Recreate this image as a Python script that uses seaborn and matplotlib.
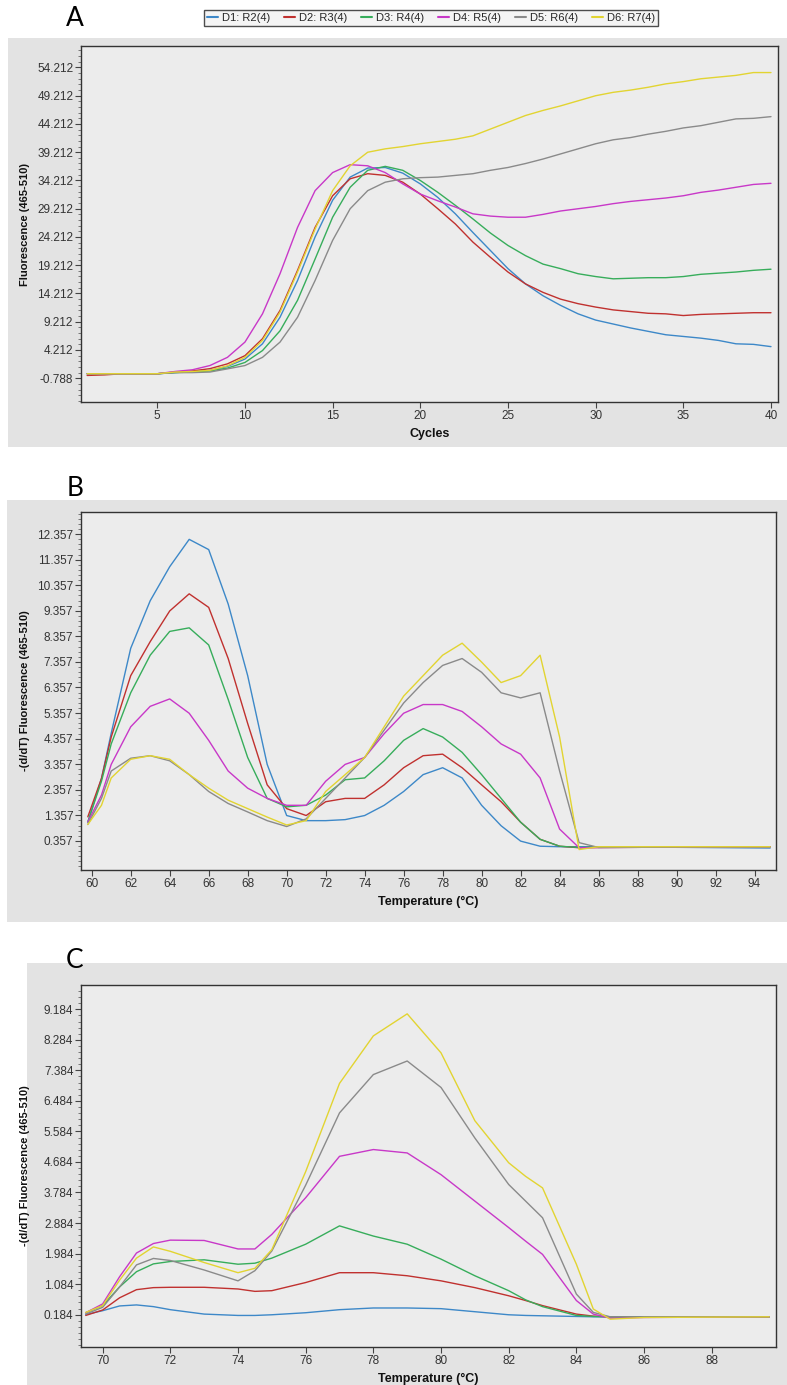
import pandas as pd
import seaborn as sns
import matplotlib.pyplot as plt
from matplotlib.patches import Rectangle
from matplotlib.lines import Line2D
from matplotlib.ticker import FixedLocator, AutoMinorLocator

sns.set_theme(style='ticks')
plt.rcParams['font.family'] = ['Liberation Sans Narrow', 'Liberation Sans', 'DejaVu Sans']

series = ['D1: R2(4)', 'D2: R3(4)', 'D3: R4(4)', 'D4: R5(4)', 'D5: R6(4)', 'D6: R7(4)']
colors = ['#3d88c8', '#c0312f', '#37ad5b', '#c838c8', '#8a8a8a', '#e2d431']

# A: amplification curves, one value per cycle
cycles = list(range(1, 41))
amp_d1 = [0.0, 0.0, 0.0, 0.0, 0.0, 0.2, 0.4, 0.6, 1.3, 2.6, 5.3, 10.0, 16.5, 24.2, 30.7, 34.8, 36.4, 36.5, 35.5, 33.6,
          31.2, 28.3, 25.0, 21.8, 18.6, 15.9, 13.8, 12.1, 10.6, 9.5, 8.8, 8.1, 7.5, 6.9, 6.6, 6.3, 5.9, 5.3, 5.2, 4.8]
amp_d2 = [-0.3, -0.2, 0.0, 0.0, 0.0, 0.3, 0.5, 0.9, 1.75, 3.2, 6.2, 11.2, 18.3, 25.9, 31.5, 34.5, 35.4, 35.1, 33.9, 31.8,
          29.2, 26.5, 23.3, 20.6, 18.0, 15.9, 14.4, 13.2, 12.4, 11.8, 11.3, 11.0, 10.7, 10.6, 10.3, 10.5, 10.6, 10.7, 10.8, 10.8]
amp_d3 = [0.0, 0.0, 0.0, 0.0, 0.0, 0.2, 0.3, 0.5, 1.0, 2.0, 4.1, 7.6, 13.0, 20.3, 27.7, 33.0, 36.0, 36.7, 36.0, 34.2,
          32.1, 29.8, 27.4, 24.9, 22.7, 20.9, 19.4, 18.6, 17.7, 17.2, 16.8, 16.9, 17.0, 17.0, 17.2, 17.6, 17.8, 18.0, 18.3, 18.5]
amp_d4 = [0.0, 0.0, 0.0, 0.0, 0.0, 0.4, 0.7, 1.45, 2.9, 5.6, 10.6, 17.7, 25.9, 32.4, 35.6, 37.0, 36.8, 35.6, 33.6, 31.8,
          30.6, 29.5, 28.3, 27.9, 27.7, 27.7, 28.2, 28.8, 29.2, 29.6, 30.1, 30.5, 30.8, 31.1, 31.5, 32.1, 32.5, 33.0, 33.5, 33.7]
amp_d5 = [0.0, 0.0, 0.0, 0.0, 0.0, 0.2, 0.2, 0.3, 0.86, 1.45, 2.9, 5.6, 10.0, 16.5, 23.6, 29.2, 32.4, 33.9, 34.5, 34.7,
          34.8, 35.1, 35.4, 36.0, 36.5, 37.2, 38.0, 38.9, 39.8, 40.7, 41.4, 41.8, 42.4, 42.9, 43.5, 43.9, 44.5, 45.1, 45.2, 45.5]
amp_d6 = [0.0, 0.0, 0.0, 0.0, 0.0, 0.3, 0.4, 0.6, 1.4, 2.9, 5.9, 10.9, 18.0, 25.6, 32.4, 36.8, 39.2, 39.8, 40.2, 40.7,
          41.1, 41.5, 42.1, 43.3, 44.5, 45.7, 46.6, 47.4, 48.3, 49.2, 49.8, 50.2, 50.7, 51.3, 51.7, 52.2, 52.5, 52.8, 53.3, 53.3]

# B: melt peaks, full range
temp_b = [59.8, 60.5, 61, 62, 63, 64, 65, 66, 67, 68, 69, 70, 71, 72, 73, 74, 75, 76, 77, 78, 79, 80, 81, 82, 83, 84,
          85, 86, 94.8]
melt_b_d1 = [1.09, 2.8, 4.57, 7.89, 9.75, 11.08, 12.15, 11.75, 9.62, 6.82, 3.35, 1.35, 1.15, 1.15, 1.19, 1.35, 1.75,
             2.29, 2.95, 3.22, 2.82, 1.75, 0.95, 0.35, 0.15, 0.13, 0.13, 0.13, 0.08]
melt_b_d2 = [1.3, 2.8, 4.42, 6.82, 8.15, 9.35, 10.02, 9.49, 7.49, 4.95, 2.55, 1.62, 1.35, 1.89, 2.02, 2.02, 2.55, 3.22,
             3.69, 3.75, 3.22, 2.55, 1.89, 1.09, 0.42, 0.15, 0.09, 0.1, 0.13]
melt_b_d3 = [1.1, 2.69, 4.15, 6.15, 7.62, 8.55, 8.69, 8.02, 5.89, 3.62, 2.02, 1.69, 1.75, 2.15, 2.75, 2.82, 3.49, 4.29,
             4.75, 4.42, 3.82, 2.95, 2.02, 1.09, 0.42, 0.15, 0.1, 0.12, 0.13]
melt_b_d4 = [1.1, 2.15, 3.35, 4.82, 5.62, 5.91, 5.35, 4.29, 3.09, 2.42, 2.02, 1.75, 1.75, 2.69, 3.35, 3.62, 4.55, 5.35,
             5.69, 5.69, 5.42, 4.82, 4.15, 3.75, 2.82, 0.82, 0.09, 0.1, 0.13]
melt_b_d5 = [1.0, 2.02, 3.09, 3.59, 3.69, 3.49, 2.95, 2.29, 1.82, 1.49, 1.15, 0.92, 1.22, 2.02, 2.82, 3.62, 4.69, 5.75,
             6.55, 7.22, 7.49, 6.95, 6.15, 5.95, 6.15, 3.09, 0.29, 0.1, 0.13]
melt_b_d6 = [1.0, 1.75, 2.82, 3.55, 3.69, 3.55, 2.95, 2.42, 1.95, 1.62, 1.29, 0.98, 1.15, 2.29, 2.95, 3.62, 4.82, 6.02,
             6.82, 7.62, 8.09, 7.35, 6.55, 6.82, 7.62, 4.42, 0.02, 0.13, 0.13]

# C: melt peaks, zoomed range
temp_c = [69.5, 70, 70.5, 71, 71.5, 72, 73, 74, 74.5, 75, 76, 77, 78, 79, 80, 81, 82, 82.5, 83, 84, 84.5, 85, 86, 89.7]
melt_c_d1 = [0.19, 0.3, 0.44, 0.47, 0.42, 0.33, 0.2, 0.16, 0.16, 0.18, 0.24, 0.33, 0.38, 0.38, 0.36, 0.27, 0.18, 0.16,
             0.15, 0.13, 0.12, 0.12, 0.12, 0.12]
melt_c_d2 = [0.16, 0.32, 0.68, 0.92, 0.98, 0.99, 0.99, 0.94, 0.87, 0.89, 1.13, 1.42, 1.42, 1.33, 1.18, 0.98, 0.74, 0.6,
             0.45, 0.2, 0.14, 0.12, 0.12, 0.12]
melt_c_d3 = [0.24, 0.45, 1.0, 1.45, 1.68, 1.75, 1.8, 1.67, 1.7, 1.85, 2.26, 2.8, 2.5, 2.26, 1.82, 1.33, 0.89, 0.62,
             0.42, 0.16, 0.13, 0.12, 0.12, 0.12]
melt_c_d4 = [0.24, 0.5, 1.3, 2.0, 2.28, 2.38, 2.37, 2.12, 2.12, 2.55, 3.63, 4.85, 5.05, 4.95, 4.31, 3.53, 2.75, 2.35,
             1.96, 0.6, 0.2, 0.08, 0.1, 0.12]
melt_c_d5 = [0.2, 0.4, 1.0, 1.65, 1.84, 1.78, 1.5, 1.18, 1.48, 2.06, 4.0, 6.13, 7.26, 7.66, 6.88, 5.39, 4.02, 3.53,
             3.04, 0.79, 0.25, 0.12, 0.12, 0.12]
melt_c_d6 = [0.25, 0.45, 1.2, 1.85, 2.18, 2.05, 1.72, 1.42, 1.55, 2.1, 4.4, 7.0, 8.4, 9.05, 7.9, 5.9, 4.66, 4.26,
             3.92, 1.67, 0.35, 0.05, 0.1, 0.12]


def long_form(x, ys):
    frames = [pd.DataFrame({'x': x, 'y': y, 'series': s}) for s, y in zip(series, ys)]
    return pd.concat(frames, ignore_index=True)


df_a = long_form(cycles, [amp_d1, amp_d2, amp_d3, amp_d4, amp_d5, amp_d6])
df_b = long_form(temp_b, [melt_b_d1, melt_b_d2, melt_b_d3, melt_b_d4, melt_b_d5, melt_b_d6])
df_c = long_form(temp_c, [melt_c_d1, melt_c_d2, melt_c_d3, melt_c_d4, melt_c_d5, melt_c_d6])

W, H = 787, 1385
fig = plt.figure(figsize=(W / 100, H / 100), dpi=100)
fig.patch.set_facecolor('white')


def px_rect(x0, y0, x1, y1):
    # figure fraction box from pixel corners (top-left origin)
    return [x0 / W, 1 - y1 / H, (x1 - x0) / W, (y1 - y0) / H]


# grey backing panels
for box in [(8, 38, 787, 447), (7, 500, 787, 922), (27, 963, 787, 1385)]:
    l, b, w, h = px_rect(*box)
    fig.add_artist(Rectangle((l, b), w, h, transform=fig.transFigure, facecolor='#e3e3e3',
                             edgecolor='none', zorder=0))

panels = [
    dict(df=df_a, box=(81, 46, 778, 402), xlim=(0.65, 40.4), ylim=(-5.0, 58.0),
         xticks=list(range(5, 41, 5)), ybase=-0.788, ystep=5.0, ny=12,
         xlabel='Cycles', ylabel='Fluorescence (465-510)', tag='A', tagy=19),
    dict(df=df_b, box=(81, 512, 776, 870), xlim=(59.45, 95.1), ylim=(-0.78, 13.22),
         xticks=list(range(60, 95, 2)), ybase=0.357, ystep=1.0, ny=13,
         xlabel='Temperature (°C)', ylabel='-(d/dT) Fluorescence (465-510)', tag='B', tagy=488),
    dict(df=df_c, box=(81, 985, 776, 1347), xlim=(69.36, 89.9), ylim=(-0.77, 9.9),
         xticks=list(range(70, 89, 2)), ybase=0.184, ystep=0.9, ny=11,
         xlabel='Temperature (°C)', ylabel='-(d/dT) Fluorescence (465-510)', tag='C', tagy=960),
]

for p in panels:
    ax = fig.add_axes(px_rect(*p['box']))
    ax.set_facecolor('#ececec')
    sns.lineplot(data=p['df'], x='x', y='y', hue='series', hue_order=series,
                 palette=dict(zip(series, colors)), ax=ax, legend=False, linewidth=1.0)
    ax.set_xlim(*p['xlim'])
    ax.set_ylim(*p['ylim'])
    yt = [p['ybase'] + i * p['ystep'] for i in range(p['ny'])]
    ax.yaxis.set_major_locator(FixedLocator(yt))
    ax.set_yticklabels(['{:.3f}'.format(v) for v in yt])
    ax.xaxis.set_major_locator(FixedLocator(p['xticks']))
    ax.set_xticklabels([str(t) for t in p['xticks']])
    ax.yaxis.set_minor_locator(AutoMinorLocator(5))
    ax.tick_params(axis='both', which='major', length=4, width=0.8, color='#444444',
                   labelsize=8.5, labelcolor='#333333', pad=1.5)
    ax.tick_params(axis='y', which='minor', length=2, width=0.6, color='#666666')
    for s in ax.spines.values():
        s.set_color('#333333')
        s.set_linewidth(1.0)
    ax.set_xlabel(p['xlabel'], fontsize=9, fontweight='bold', color='#111111')
    ax.set_ylabel(p['ylabel'], fontsize=8, fontweight='bold', color='#111111')
    bw = p['box'][2] - p['box'][0]
    bh = p['box'][3] - p['box'][1]
    ax.xaxis.set_label_coords(0.5, -26 / bh)
    ax.yaxis.set_label_coords(-51 / bw, 0.5)
    fig.text(75 / W, 1 - p['tagy'] / H, p['tag'], fontsize=19, family=['Lato', 'DejaVu Sans'],
             ha='center', va='center', color='black')

handles = [Line2D([0], [0], color=c, lw=1.5) for c in colors]
leg = fig.legend(handles, series, loc='center', bbox_to_anchor=(431 / W, 1 - 18 / H), ncol=6,
                 fontsize=8, handlelength=1.0, handletextpad=0.4, columnspacing=1.2,
                 borderpad=0.25, frameon=True, fancybox=False)
leg.get_frame().set_edgecolor('#222222')
leg.get_frame().set_linewidth(1.0)
leg.get_frame().set_facecolor('#f2f2f2')

fig.savefig('out.png', dpi=100)
